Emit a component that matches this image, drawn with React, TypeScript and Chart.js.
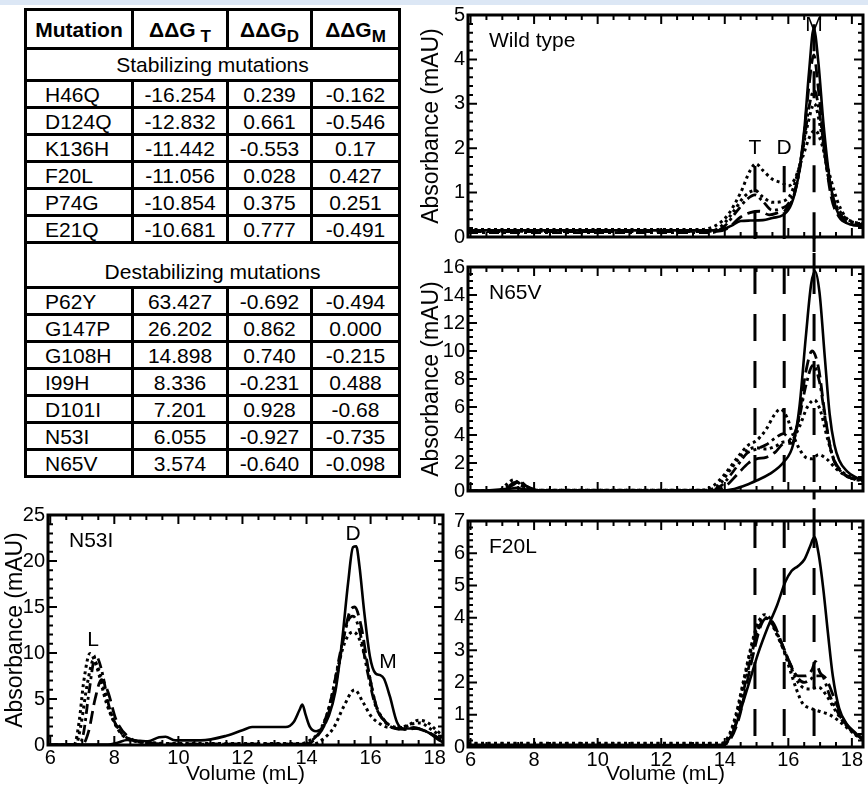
import React, { useEffect, useRef } from 'react';
import { Chart, registerables } from 'chart.js';

Chart.register(...registerables);

const FONT = '"Liberation Sans", Arial, Helvetica, sans-serif';

// ---------------- Table data ----------------
const STAB_MUTATIONS = ['H46Q', 'D124Q', 'K136H', 'F20L', 'P74G', 'E21Q'];
const STAB_DDG_T = ['-16.254', '-12.832', '-11.442', '-11.056', '-10.854', '-10.681'];
const STAB_DDG_D = ['0.239', '0.661', '-0.553', '0.028', '0.375', '0.777'];
const STAB_DDG_M = ['-0.162', '-0.546', '0.17', '0.427', '0.251', '-0.491'];
const DESTAB_MUTATIONS = ['P62Y', 'G147P', 'G108H', 'I99H', 'D101I', 'N53I', 'N65V'];
const DESTAB_DDG_T = ['63.427', '26.202', '14.898', '8.336', '7.201', '6.055', '3.574'];
const DESTAB_DDG_D = ['-0.692', '0.862', '0.740', '-0.231', '0.928', '-0.927', '-0.640'];
const DESTAB_DDG_M = ['-0.494', '0.000', '-0.215', '0.488', '-0.68', '-0.735', '-0.098'];

// ---------------- Chromatogram data (volume mL, absorbance mAU) ----------------
type Pair = [number, number];

const T_VOL = 14.95;
const D_VOL = 15.87;
const M_VOL = 16.81;

const WT_SOLID: Pair[] = [[5.92,0.15],[9,0.15],[12,0.15],[13.8,0.15],[14.2,0.25],[14.5,0.36],[14.8,0.37],[15.2,0.38],[15.5,0.43],[15.85,0.5],[16.1,0.75],[16.3,1.3],[16.5,2.4],[16.65,3.7],[16.8,4.7],[16.95,3.9],[17.1,2.6],[17.3,1.3],[17.5,0.65],[17.7,0.4],[17.95,0.28],[18.35,0.25]];
const WT_LONG_DASH: Pair[] = [[5.92,0.12],[13.7,0.12],[14.1,0.2],[14.5,0.45],[14.8,0.55],[15.1,0.58],[15.4,0.5],[15.7,0.55],[15.9,0.6],[16.2,1.0],[16.45,2.0],[16.65,3.4],[16.8,4.1],[16.95,3.3],[17.15,1.9],[17.35,0.9],[17.6,0.45],[17.9,0.3],[18.35,0.25]];
const WT_DASH_DOT: Pair[] = [[5.92,0.1],[13.6,0.1],[14.0,0.25],[14.4,0.6],[14.7,0.85],[14.95,0.95],[15.2,0.8],[15.5,0.6],[15.8,0.65],[16.0,0.75],[16.3,1.3],[16.5,2.2],[16.7,3.1],[16.82,3.3],[17.0,2.7],[17.2,1.6],[17.4,0.9],[17.7,0.45],[18.0,0.32],[18.35,0.28]];
const WT_DOTTED_A: Pair[] = [[5.92,0.13],[13.5,0.13],[13.9,0.25],[14.3,0.6],[14.6,0.9],[14.95,1.05],[15.2,0.9],[15.5,0.78],[15.8,0.8],[16.1,1.0],[16.35,1.6],[16.6,2.5],[16.82,3.0],[17.0,2.5],[17.2,1.6],[17.4,0.9],[17.7,0.5],[18.0,0.35],[18.35,0.3]];
const WT_DOTTED_B: Pair[] = [[5.92,0.17],[13.2,0.17],[13.7,0.25],[14.1,0.5],[14.5,1.0],[14.8,1.5],[14.98,1.65],[15.2,1.5],[15.5,1.3],[15.8,1.22],[16.0,1.15],[16.2,1.3],[16.45,1.8],[16.7,2.3],[16.85,2.4],[17.05,2.1],[17.3,1.4],[17.55,0.8],[17.8,0.45],[18.1,0.32],[18.35,0.3]];

const N65V_SOLID: Pair[] = [[5.92,0.02],[6.6,0.05],[7.2,0.15],[7.45,0.22],[7.7,0.12],[8.3,0.04],[10,0.02],[13.8,0.03],[14.3,0.15],[14.7,0.45],[15.0,0.75],[15.4,1.2],[15.87,2.1],[16.15,3.3],[16.35,6.0],[16.55,11],[16.72,14.8],[16.84,15.7],[16.98,14.2],[17.15,9.5],[17.3,5.5],[17.45,3.3],[17.6,2.2],[17.85,1.4],[18.1,1.0],[18.35,0.8]];
const N65V_LONG_DASH: Pair[] = [[5.92,0],[7.0,0.05],[7.35,0.45],[7.55,0.7],[7.75,0.35],[8.2,0.05],[13.6,0.05],[14.0,0.3],[14.4,1.2],[14.75,2.0],[15.0,2.3],[15.3,2.4],[15.6,2.8],[15.87,3.4],[16.1,3.4],[16.35,5.5],[16.55,8.5],[16.75,10.0],[16.95,8.8],[17.15,5.5],[17.35,2.8],[17.6,1.6],[17.9,1.0],[18.35,0.7]];
const N65V_DASH_DOT: Pair[] = [[5.92,0],[7.0,0.05],[7.3,0.5],[7.5,0.7],[7.7,0.4],[8.1,0.05],[13.5,0.05],[13.9,0.4],[14.3,1.5],[14.7,2.7],[15.0,3.0],[15.3,3.3],[15.6,3.8],[15.85,4.1],[16.05,3.7],[16.3,4.8],[16.55,7.5],[16.78,9.0],[16.98,7.8],[17.2,4.6],[17.4,2.4],[17.65,1.4],[18.0,0.9],[18.35,0.7]];
const N65V_DOTTED_A: Pair[] = [[5.92,0],[7.0,0.05],[7.25,0.45],[7.45,0.65],[7.65,0.35],[8.1,0.05],[13.4,0.05],[13.8,0.4],[14.2,1.6],[14.6,2.7],[14.95,3.1],[15.3,3.0],[15.6,3.2],[15.85,3.5],[16.1,3.6],[16.35,4.6],[16.6,6.0],[16.82,6.5],[17.0,5.8],[17.25,3.6],[17.5,1.9],[17.8,1.2],[18.1,0.9],[18.35,0.8]];
const N65V_DOTTED_B: Pair[] = [[5.92,0],[6.9,0.05],[7.15,0.5],[7.35,0.8],[7.6,0.4],[8.0,0.05],[13.2,0.05],[13.6,0.3],[14.0,1.2],[14.4,2.4],[14.75,3.3],[15.0,3.6],[15.3,4.4],[15.55,5.4],[15.75,5.85],[15.95,5.3],[16.15,4.0],[16.35,3.0],[16.55,2.4],[16.75,2.3],[16.95,2.6],[17.2,2.3],[17.5,1.6],[17.8,1.1],[18.1,0.85],[18.35,0.8]];

const F20L_SOLID: Pair[] = [[5.92,0.07],[8,0.07],[12,0.06],[13.9,0.07],[14.1,0.2],[14.3,0.55],[14.55,1.3],[14.8,2.1],[15.05,2.9],[15.35,3.7],[15.65,4.4],[15.9,5.1],[16.1,5.45],[16.3,5.6],[16.5,5.8],[16.68,6.2],[16.82,6.5],[16.95,6.0],[17.1,4.9],[17.25,3.5],[17.4,2.2],[17.6,1.2],[17.85,0.7],[18.1,0.45],[18.35,0.2]];
const F20L_LONG_DASH: Pair[] = [[5.92,0.05],[13.9,0.05],[14.15,0.2],[14.45,0.9],[14.7,2.0],[14.95,3.1],[15.15,3.8],[15.35,4.0],[15.55,3.8],[15.8,3.2],[16.05,2.6],[16.3,2.2],[16.55,2.2],[16.75,2.4],[16.85,2.65],[17.0,2.3],[17.2,2.1],[17.45,1.5],[17.7,0.9],[18.0,0.5],[18.35,0.25]];
const F20L_DASH_DOT: Pair[] = [[5.92,0.05],[13.9,0.05],[14.15,0.25],[14.4,0.9],[14.65,2.0],[14.9,3.1],[15.1,3.75],[15.3,4.0],[15.5,3.8],[15.75,3.3],[16.0,2.7],[16.25,2.2],[16.5,2.0],[16.7,2.1],[16.85,2.2],[17.05,2.2],[17.3,1.6],[17.6,1.0],[17.9,0.6],[18.35,0.25]];
const F20L_DOTTED_A: Pair[] = [[5.92,0.1],[13.9,0.1],[14.1,0.25],[14.35,0.9],[14.6,2.0],[14.85,3.1],[15.05,3.75],[15.25,4.0],[15.45,3.85],[15.7,3.35],[15.95,2.8],[16.2,2.2],[16.45,1.85],[16.7,1.8],[16.95,1.85],[17.2,1.6],[17.5,1.1],[17.8,0.7],[18.1,0.4],[18.35,0.25]];
const F20L_DOTTED_B: Pair[] = [[5.92,0.12],[8,0.12],[13.9,0.12],[14.1,0.3],[14.35,1.0],[14.6,2.1],[14.85,3.2],[15.05,3.85],[15.25,4.1],[15.45,3.95],[15.65,3.5],[15.85,3.0],[16.05,2.4],[16.25,1.8],[16.45,1.35],[16.7,1.2],[17.0,1.1],[17.3,1.0],[17.6,0.8],[17.9,0.55],[18.15,0.35],[18.35,0.25]];

const N53I_SOLID: Pair[] = [[5.93,0.05],[7.8,0.05],[8.1,0.25],[8.4,0.55],[8.8,0.45],[9.05,0.4],[9.4,0.85],[9.6,0.9],[9.9,0.5],[10.7,0.5],[11.5,1.0],[12.0,1.6],[12.3,1.95],[12.8,1.95],[13.35,1.95],[13.6,2.5],[13.78,3.8],[13.87,4.4],[13.97,3.3],[14.1,2.0],[14.3,1.5],[14.5,1.9],[14.7,3.2],[14.9,5.8],[15.1,11],[15.3,17.7],[15.45,21.5],[15.55,21.6],[15.65,19.5],[15.8,14.5],[15.98,9.6],[16.15,7.8],[16.3,7.6],[16.42,7.2],[16.6,5.3],[16.82,2.5],[17.02,1.8],[17.44,1.8],[17.86,1.25],[18.1,0.6],[18.26,0.3]];
const N53I_LONG_DASH: Pair[] = [[5.93,0],[7.0,0.05],[7.2,1.5],[7.4,5.0],[7.6,7.1],[7.8,5.8],[8.05,2.8],[8.4,1.0],[8.9,0.3],[10,0.1],[14.0,0.1],[14.3,0.8],[14.6,2.5],[14.9,6.5],[15.15,11.5],[15.35,14.5],[15.5,15.0],[15.7,13.0],[15.95,7.8],[16.2,4.0],[16.5,2.4],[16.8,1.8],[17.1,1.7],[17.4,1.8],[17.7,1.5],[18.0,1.0],[18.26,0.4]];
const N53I_DASH_DOT: Pair[] = [[5.93,0],[6.9,0.05],[7.05,1.5],[7.2,5.5],[7.42,9.7],[7.6,8.2],[7.85,4.0],[8.2,1.4],[8.6,0.5],[9.2,0.2],[10,0.1],[13.9,0.1],[14.2,0.6],[14.5,2.0],[14.8,5.5],[15.05,10],[15.3,13.5],[15.45,14.0],[15.65,12.5],[15.9,8.0],[16.15,4.3],[16.45,2.5],[16.75,1.8],[17.05,1.7],[17.35,1.9],[17.65,1.6],[17.95,1.1],[18.26,0.4]];
const N53I_DOTTED_A: Pair[] = [[5.93,0],[6.75,0.05],[6.9,2.5],[7.05,7.0],[7.24,9.95],[7.45,8.5],[7.75,4.6],[8.1,1.8],[8.4,0.7],[9.0,0.3],[10,0.15],[13.8,0.15],[14.1,0.5],[14.4,1.5],[14.7,4.0],[14.95,8.0],[15.2,11.2],[15.45,12.3],[15.65,11.5],[15.9,8.5],[16.15,4.5],[16.4,2.8],[16.7,2.0],[17.0,1.9],[17.3,2.3],[17.55,2.4],[17.85,1.8],[18.26,0.7]];
const N53I_DOTTED_B: Pair[] = [[5.93,0],[6.8,0.05],[6.95,2.0],[7.15,6.5],[7.35,9.2],[7.55,7.8],[7.85,3.8],[8.2,1.3],[8.6,0.5],[9.2,0.2],[10,0.1],[14.2,0.1],[14.5,0.6],[14.85,1.9],[15.15,4.1],[15.5,6.0],[15.77,4.6],[16.0,3.2],[16.25,2.4],[16.6,1.9],[16.9,1.9],[17.2,2.2],[17.5,2.7],[17.8,2.4],[18.05,1.6],[18.26,1.0]];

// ---------------- Styles ----------------
type StyleName = 'solid' | 'longDash' | 'dashDot' | 'dotted';
const LINE_STYLES: Record<StyleName, { dash: number[]; width: number }> = {
  solid: { dash: [], width: 2.6 },
  longDash: { dash: [13, 6], width: 2.8 },
  dashDot: { dash: [10, 4, 3, 4], width: 2.8 },
  dotted: { dash: [3, 3.5], width: 3 },
};

interface RefLine { x: number; from: number; to: number; solid?: boolean }
interface PeakLabel { text: string; x: number; y: number }
interface PanelSpec {
  left: number; top: number; width: number; height: number;
  padding: { left: number; top: number; right: number; bottom: number };
  xMin: number; xMax: number; showX: boolean; xAxisHeight: number;
  yMax: number; yStep: number; yMinor: number; yAxisWidth: number; yTitlePad: number; showYTitle: boolean;
  name: string;
  series: { data: Pair[]; style: StyleName }[];
  refs: RefLine[];
  labels: PeakLabel[];
}

const decorPlugin = {
  id: 'decor',
  afterDatasetsDraw(chart: any, _args: any, opts: any) {
    const { ctx, chartArea: a } = chart;
    const xs = chart.scales.x;
    const ys = chart.scales.y;
    ctx.save();
    ctx.strokeStyle = '#000';
    ctx.lineWidth = 2;
    ctx.beginPath();
    const xr = Math.round(opts.xMajor / opts.xMinor);
    for (let n = Math.ceil(xs.min / opts.xMinor - 1e-9); n <= Math.floor(xs.max / opts.xMinor + 1e-9); n++) {
      const p = xs.getPixelForValue(n * opts.xMinor);
      const len = n % xr === 0 ? 9 : 5;
      ctx.moveTo(p, a.bottom); ctx.lineTo(p, a.bottom - len);
      ctx.moveTo(p, a.top); ctx.lineTo(p, a.top + len);
    }
    const yr = Math.round(opts.yMajor / opts.yMinor);
    for (let n = Math.ceil(ys.min / opts.yMinor - 1e-9); n <= Math.floor(ys.max / opts.yMinor + 1e-9); n++) {
      const p = ys.getPixelForValue(n * opts.yMinor);
      const len = n % yr === 0 ? 9 : 5;
      ctx.moveTo(a.left, p); ctx.lineTo(a.left + len, p);
      ctx.moveTo(a.right, p); ctx.lineTo(a.right - len, p);
    }
    ctx.stroke();
    ctx.lineWidth = 3;
    ctx.strokeRect(a.left, a.top, a.right - a.left, a.bottom - a.top);
    ctx.fillStyle = '#000';
    ctx.font = `21px ${FONT}`;
    ctx.textBaseline = 'middle';
    ctx.textAlign = 'left';
    ctx.fillText(opts.name, a.left + 21, a.top + 26);
    ctx.textAlign = 'center';
    (opts.labels as PeakLabel[]).forEach((l) => {
      ctx.fillText(l.text, xs.getPixelForValue(l.x), ys.getPixelForValue(l.y));
    });
    ctx.restore();
  },
};

function buildConfig(p: PanelSpec): any {
  const datasets: any[] = [];
  p.series.forEach((s) => {
    const st = LINE_STYLES[s.style];
    datasets.push({
      data: s.data.map(([x, y]) => ({ x, y })),
      borderColor: '#000', borderWidth: st.width, borderDash: st.dash,
      pointRadius: 0, fill: false, tension: 0.4, cubicInterpolationMode: 'monotone',
    });
  });
  p.refs.forEach((r) => {
    datasets.push({
      data: [{ x: r.x, y: r.from }, { x: r.x, y: r.to }],
      borderColor: '#000', borderWidth: 3, borderDash: r.solid ? [] : [27, 20],
      pointRadius: 0, fill: false, tension: 0, clip: r.solid ? false : 2,
    });
  });
  return {
    type: 'line',
    data: { datasets },
    plugins: [decorPlugin],
    options: {
      responsive: false, animation: false, devicePixelRatio: 1, events: [],
      layout: { autoPadding: false, padding: p.padding },
      plugins: {
        legend: { display: false }, tooltip: { enabled: false },
        decor: { xMinor: 0.5, xMajor: 2, yMinor: p.yMinor, yMajor: p.yStep, name: p.name, labels: p.labels },
      },
      scales: {
        x: {
          type: 'linear', min: p.xMin, max: p.xMax, display: p.showX,
          afterFit: (s: any) => { s.height = p.xAxisHeight; },
          grid: { display: false, drawTicks: false }, border: { display: false },
          ticks: { stepSize: 2, includeBounds: false, autoSkip: false, maxRotation: 0, color: '#000', padding: 1, font: { family: FONT, size: 20 } },
          title: { display: true, text: 'Volume (mL)', color: '#000', padding: { top: 0, bottom: 0 }, font: { family: FONT, size: 21, lineHeight: 1 } },
        },
        y: {
          type: 'linear', min: 0, max: p.yMax,
          afterFit: (s: any) => { s.width = p.yAxisWidth; },
          grid: { display: false, drawTicks: false }, border: { display: false },
          ticks: { stepSize: p.yStep, includeBounds: false, autoSkip: false, color: '#000', padding: 3, font: { family: FONT, size: 20 } },
          title: { display: p.showYTitle, text: 'Absorbance (mAU)', color: '#000', padding: { top: p.yTitlePad, bottom: 0 }, font: { family: FONT, size: 23, lineHeight: 1 } },
        },
      },
    },
  };
}

const RIGHT_X_MIN = 5.92;
const RIGHT_X_MAX = 18.35;

const PANELS: PanelSpec[] = [
  {
    left: 400, top: 0, width: 468, height: 252,
    padding: { left: 0, top: 12, right: 5, bottom: 7 },
    xMin: RIGHT_X_MIN, xMax: RIGHT_X_MAX, showX: false, xAxisHeight: 0,
    yMax: 5, yStep: 1, yMinor: 0.2, yAxisWidth: 68, yTitlePad: 20.5, showYTitle: true,
    name: 'Wild type',
    series: [
      { data: WT_SOLID, style: 'solid' }, { data: WT_LONG_DASH, style: 'longDash' },
      { data: WT_DASH_DOT, style: 'dashDot' }, { data: WT_DOTTED_A, style: 'dotted' },
      { data: WT_DOTTED_B, style: 'dotted' },
    ],
    refs: [
      { x: T_VOL, from: -0.05, to: 1.6 }, { x: D_VOL, from: -0.05, to: 1.6 },
      { x: M_VOL, from: -0.05, to: 5 }, { x: M_VOL, from: 0, to: -0.4, solid: true },
    ],
    labels: [{ text: 'T', x: T_VOL, y: 2.0 }, { text: 'D', x: D_VOL, y: 2.0 }, { text: 'M', x: M_VOL, y: 4.78 }],
  },
  {
    left: 400, top: 252, width: 468, height: 254,
    padding: { left: 0, top: 10, right: 5, bottom: 6 },
    xMin: RIGHT_X_MIN, xMax: RIGHT_X_MAX, showX: false, xAxisHeight: 0,
    yMax: 16, yStep: 2, yMinor: 0.5, yAxisWidth: 68, yTitlePad: 20.5, showYTitle: true,
    name: 'N65V',
    series: [
      { data: N65V_SOLID, style: 'solid' }, { data: N65V_LONG_DASH, style: 'longDash' },
      { data: N65V_DASH_DOT, style: 'dashDot' }, { data: N65V_DOTTED_A, style: 'dotted' },
      { data: N65V_DOTTED_B, style: 'dotted' },
    ],
    refs: [
      { x: T_VOL, from: 16, to: 0 }, { x: D_VOL, from: 16, to: 0 }, { x: M_VOL, from: 16, to: 0 },
      { x: M_VOL, from: 16, to: 17, solid: true }, { x: M_VOL, from: 0, to: -0.6, solid: true },
    ],
    labels: [],
  },
  {
    left: 400, top: 506, width: 468, height: 279,
    padding: { left: 0, top: 6, right: 5, bottom: 0 },
    xMin: RIGHT_X_MIN, xMax: RIGHT_X_MAX, showX: true, xAxisHeight: 38,
    yMax: 7, yStep: 1, yMinor: 0.2, yAxisWidth: 68, yTitlePad: 20.5, showYTitle: false,
    name: 'F20L',
    series: [
      { data: F20L_SOLID, style: 'solid' }, { data: F20L_LONG_DASH, style: 'longDash' },
      { data: F20L_DASH_DOT, style: 'dashDot' }, { data: F20L_DOTTED_A, style: 'dotted' },
      { data: F20L_DOTTED_B, style: 'dotted' },
    ],
    refs: [
      { x: T_VOL, from: 7, to: 0 }, { x: D_VOL, from: 7, to: 0 }, { x: M_VOL, from: 7, to: 0 },
      { x: M_VOL, from: 7, to: 7.4, solid: true },
    ],
    labels: [],
  },
  {
    left: 0, top: 500, width: 450, height: 285,
    padding: { left: 0, top: 10, right: 7, bottom: 0 },
    xMin: 5.93, xMax: 18.26, showX: true, xAxisHeight: 40,
    yMax: 25, yStep: 5, yMinor: 1, yAxisWidth: 48, yTitlePad: 4.5, showYTitle: true,
    name: 'N53I',
    series: [
      { data: N53I_SOLID, style: 'solid' }, { data: N53I_LONG_DASH, style: 'longDash' },
      { data: N53I_DASH_DOT, style: 'dashDot' }, { data: N53I_DOTTED_A, style: 'dotted' },
      { data: N53I_DOTTED_B, style: 'dotted' },
    ],
    refs: [],
    labels: [{ text: 'L', x: 7.34, y: 11.4 }, { text: 'D', x: 15.45, y: 22.9 }, { text: 'M', x: 16.54, y: 9.0 }],
  },
];

function Panel({ spec }: { spec: PanelSpec }) {
  const ref = useRef<HTMLCanvasElement>(null);
  useEffect(() => {
    const chart = new Chart(ref.current as HTMLCanvasElement, buildConfig(spec));
    return () => chart.destroy();
  }, [spec]);
  return (
    <canvas
      ref={ref}
      width={spec.width}
      height={spec.height}
      style={{ position: 'absolute', left: spec.left, top: spec.top, width: spec.width, height: spec.height }}
    />
  );
}

const cell: React.CSSProperties = {
  border: '3px solid #000', padding: 0, lineHeight: '21px', verticalAlign: 'middle',
  textAlign: 'center', whiteSpace: 'nowrap', overflow: 'visible',
};
const sub: React.CSSProperties = { fontSize: 17, verticalAlign: '-5px', lineHeight: '0' };

function DataRow({ m, t, d, mm }: { m: string; t: string; d: string; mm: string }) {
  return (
    <tr style={{ height: 27 }}>
      <td style={{ ...cell, textAlign: 'left', paddingLeft: 18 }}>{m}</td>
      <td style={cell}>{t}</td>
      <td style={cell}>{d}</td>
      <td style={cell}>{mm}</td>
    </tr>
  );
}

function MutationTable() {
  return (
    <table
      style={{
        position: 'absolute', left: 24, top: 8, width: 374, borderCollapse: 'collapse',
        tableLayout: 'fixed', fontFamily: FONT, fontSize: 21, color: '#000',
      }}
    >
      <colgroup>
        <col style={{ width: 107 }} />
        <col style={{ width: 95 }} />
        <col style={{ width: 84 }} />
        <col style={{ width: 88 }} />
      </colgroup>
      <tbody>
        <tr style={{ height: 39 }}>
          <td style={{ ...cell, fontWeight: 'bold' }}>Mutation</td>
          <td style={{ ...cell, fontWeight: 'bold' }}>ΔΔG<span style={{ ...sub, marginLeft: 5 }}>T</span></td>
          <td style={{ ...cell, fontWeight: 'bold' }}>ΔΔG<span style={sub}>D</span></td>
          <td style={{ ...cell, fontWeight: 'bold' }}>ΔΔG<span style={sub}>M</span></td>
        </tr>
        <tr style={{ height: 32 }}>
          <td colSpan={4} style={cell}>Stabilizing mutations</td>
        </tr>
        {STAB_MUTATIONS.map((m, i) => (
          <DataRow key={m} m={m} t={STAB_DDG_T[i]} d={STAB_DDG_D[i]} mm={STAB_DDG_M[i]} />
        ))}
        <tr style={{ height: 45 }}>
          <td colSpan={4} style={{ ...cell, verticalAlign: 'bottom', paddingBottom: 4 }}>Destabilizing mutations</td>
        </tr>
        {DESTAB_MUTATIONS.map((m, i) => (
          <DataRow key={m} m={m} t={DESTAB_DDG_T[i]} d={DESTAB_DDG_D[i]} mm={DESTAB_DDG_M[i]} />
        ))}
      </tbody>
    </table>
  );
}

export default function App() {
  return (
    <div style={{ position: 'absolute', left: 0, top: 0, width: 868, height: 785, background: '#fff', overflow: 'hidden' }}>
      <div style={{ position: 'absolute', left: 0, top: 0, width: 868, height: 5, background: '#dce7f5' }} />
      <MutationTable />
      {PANELS.map((p) => (
        <Panel key={p.name} spec={p} />
      ))}
    </div>
  );
}
